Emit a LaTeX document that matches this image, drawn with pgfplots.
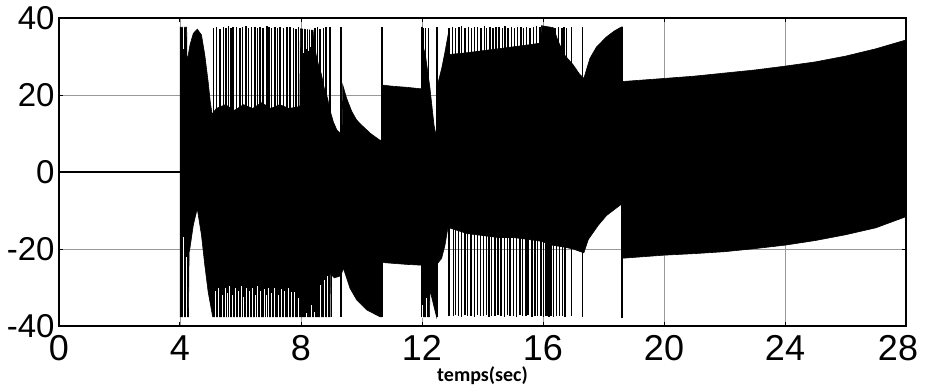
\documentclass[border=0pt]{standalone}
\usepackage{fontspec}
\setmainfont{Liberation Sans}
\newfontfamily\labelfont{Carlito}
\usepackage{pgfplots}
\pgfplotsset{compat=1.18}
\begin{document}
\begin{tikzpicture}
\useasboundingbox (-29.5pt,-30.5pt) rectangle (433.5pt,163pt);
\begin{axis}[
  at={(0,0)}, anchor=south west,
  scale only axis, width=423.5pt, height=154pt,
  xmin=0, xmax=28, ymin=-40, ymax=40,
  xtick={0,4,...,28}, ytick={-40,-20,0,20,40},
  xticklabels={0,4,8,12,16,20,24,{28\hspace*{8pt}}},
  yticklabels={-40,-20,0,20,40},
  xticklabel style={font=\fontsize{18}{18}\selectfont, anchor=north, inner sep=0pt, yshift=-4.5pt},
  yticklabel style={font=\fontsize{16.5}{16.5}\selectfont, anchor=east, inner sep=0pt, xshift=-2pt},
  grid=major, major grid style={black!40, line width=0.45pt},
  tick align=inside, major tick length=2pt, tick style={black, line width=0.5pt},
  axis line style={line width=0.9pt},
  xlabel={\labelfont\bfseries temps(sec)},
  xlabel style={at={(axis description cs:0.5,0)}, anchor=base, yshift=-27.5pt, inner sep=0pt, font=\fontsize{10}{10}\selectfont},
  unbounded coords=jump,
]
% before the disturbance
\addplot[black, line width=0.6pt] coordinates {(0,0) (4.0,0)};

% oscillation envelopes (upper edge forward, lower edge backward)
\addplot[fill=black, draw=black, line width=0.3pt] coordinates {
 (4.00,37.6) (4.22,37.6) (4.23,29.5) (4.27,30.2) (4.33,33) (4.44,36) (4.57,37.1)
 (4.71,35.6) (4.82,30.4) (4.93,23.5) (5.00,18.3) (5.06,15) (5.2,16.5) (5.5,17.5)
 (5.8,16) (6.1,17.5) (6.4,16.5) (6.7,18) (7.0,16.5) (7.3,17.5) (7.6,16.5) (7.96,17)
 (7.98,37.2) (8.40,36.8) (8.41,35.6) (8.50,30.4) (8.58,27.8) (8.68,25.2) (8.77,21.7)
 (8.88,19.1) (8.96,16) (9.07,13) (9.18,11) (9.30,10) (9.36,10) (9.38,22.6) (9.51,19.1)
 (9.68,15.7) (9.84,13.5) (10.0,12.2) (10.3,10) (10.6,8.3) (10.66,8.2)
 (10.66,-37.6) (10.61,-37.6) (10.17,-35.8) (9.84,-33.2) (9.62,-30.2) (9.40,-25)
 (9.36,-26) (9.30,-27) (9.1,-27.5) (8.97,-26.3) (8.96,-37.6) (5.08,-37.6)
 (4.93,-31.1) (4.82,-24.2) (4.71,-16.4) (4.57,-9.5) (4.44,-13.8) (4.33,-19.7)
 (4.30,-21) (4.28,-37.6) (4.00,-37.6)};
\addplot[fill=black, draw=black, line width=0.3pt] coordinates {
 (10.68,22.6) (11.0,22.3) (11.5,22) (11.98,21.6)
 (11.98,-24.2) (11.5,-24) (11.0,-23.7) (10.68,-23.5)};
\addplot[fill=black, draw=black, line width=0.3pt] coordinates {
 (11.99,37.6) (12.02,37.6) (12.03,33) (12.12,30) (12.26,22) (12.40,12) (12.48,9)
 (12.48,-37.6) (12.26,-30.6) (12.25,-37.6) (11.99,-37.6)};
\addplot[fill=black, draw=black, line width=0.3pt] coordinates {
 (12.50,22.2) (12.65,26.9) (12.76,31.2) (12.86,35.5) (12.88,30.5) (13.5,31) (14.0,31.5)
 (14.5,32) (15.0,32.5) (15.5,33) (15.93,33.5) (15.95,38) (16.34,37.5) (16.5,34)
 (16.7,30.5) (17.0,27.8) (17.2,25.5) (17.35,24.3) (17.55,29.5) (17.77,32.5)
 (18.1,35.1) (18.35,36.6) (18.6,37.7) (18.62,37.7)
 (18.62,-8.2) (18.35,-9.8) (18.1,-11.3) (17.83,-13.8) (17.5,-17.5) (17.35,-21)
 (17.0,-20) (16.7,-19.5) (16.3,-19) (15.95,-18) (15.5,-17.5) (15,-17) (14.5,-17)
 (14,-16.5) (13.5,-16) (12.9,-14.5) (12.87,-13.8) (12.76,-19) (12.65,-22.4)
 (12.52,-23.7) (12.50,-23.7)};
\addplot[fill=black, draw=black, line width=0.3pt] coordinates {
 (18.62,23.5) (20,24.3) (21,24.9) (22,25.7) (23,26.5) (24,27.5) (25,28.6) (26,30.1) (27,32) (28,34.3)
 (28,-11.6) (27,-14.5) (26,-16.3) (25,-17.8) (24,-19) (23,-19.9) (22,-20.7) (21,-21.2) (20,-21.6) (18.62,-22.4)};

% cycles reaching the positive limit
\addplot[black, line width=0.75pt] coordinates {
 (5.10,0) (5.10,37.4) (5.10,nan) (5.21,0) (5.21,37.7) (5.21,nan) (5.32,0) (5.32,37.2) (5.32,nan)
 (5.43,0) (5.43,37.6) (5.43,nan) (5.52,0) (5.52,37.5) (5.52,nan) (5.60,0) (5.60,37.8) (5.60,nan)
 (5.69,0) (5.69,37.3) (5.69,nan) (5.76,0) (5.76,37.6) (5.76,nan) (5.87,0) (5.87,37.7) (5.87,nan)
 (5.98,0) (5.98,37.4) (5.98,nan) (6.07,0) (6.07,37.6) (6.07,nan) (6.18,0) (6.18,37.8) (6.18,nan)
 (6.27,0) (6.27,37.5) (6.27,nan) (6.37,0) (6.37,37.6) (6.37,nan) (6.48,0) (6.48,37.7) (6.48,nan)
 (6.56,0) (6.56,37.4) (6.56,nan) (6.64,0) (6.64,37.6) (6.64,nan) (6.75,0) (6.75,37.5) (6.75,nan)
 (6.87,0) (6.87,37.8) (6.87,nan) (6.95,0) (6.95,37.6) (6.95,nan) (7.03,0) (7.03,37.4) (7.03,nan)
 (7.14,0) (7.14,37.7) (7.14,nan) (7.22,0) (7.22,37.5) (7.22,nan) (7.31,0) (7.31,37.6) (7.31,nan)
 (7.42,0) (7.42,37.3) (7.42,nan) (7.53,0) (7.53,37.6) (7.53,nan) (7.64,0) (7.64,37.7) (7.64,nan)
 (7.75,0) (7.75,37.5) (7.75,nan) (7.83,0) (7.83,37.2) (7.83,nan) (7.91,0) (7.91,37.6) (7.91,nan)
 (8.46,0) (8.46,37.4) (8.46,nan) (8.54,0) (8.54,37.6) (8.54,nan) (8.63,0) (8.63,37.2) (8.63,nan)
 (8.74,0) (8.74,37.5) (8.74,nan) (8.82,0) (8.82,37.6) (8.82,nan) (8.96,0) (8.96,37.6) (8.96,nan)
 (12.04,0) (12.04,37.3) (12.04,nan) (12.12,0) (12.12,37.5) (12.12,nan) (12.21,0) (12.21,37.4) (12.21,nan)
 (12.90,0) (12.90,37.5) (12.90,nan) (13.01,0) (13.01,37.7) (13.01,nan) (13.11,0) (13.11,37.4) (13.11,nan)
 (13.22,0) (13.22,37.6) (13.22,nan) (13.31,0) (13.31,37.8) (13.31,nan) (13.42,0) (13.42,37.5) (13.42,nan)
 (13.53,0) (13.53,37.6) (13.53,nan) (13.64,0) (13.64,37.3) (13.64,nan) (13.73,0) (13.73,37.7) (13.73,nan)
 (13.84,0) (13.84,37.6) (13.84,nan) (13.95,0) (13.95,37.4) (13.95,nan) (14.06,0) (14.06,37.8) (14.06,nan)
 (14.14,0) (14.14,37.5) (14.14,nan) (14.25,0) (14.25,37.6) (14.25,nan) (14.34,0) (14.34,37.3) (14.34,nan)
 (14.45,0) (14.45,37.7) (14.45,nan) (14.55,0) (14.55,37.6) (14.55,nan) (14.66,0) (14.66,37.4) (14.66,nan)
 (14.74,0) (14.74,37.8) (14.74,nan) (14.85,0) (14.85,37.5) (14.85,nan) (14.96,0) (14.96,37.6) (14.96,nan)
 (15.05,0) (15.05,37.3) (15.05,nan) (15.16,0) (15.16,37.7) (15.16,nan) (15.27,0) (15.27,37.6) (15.27,nan)
 (15.35,0) (15.35,37.4) (15.35,nan) (15.46,0) (15.46,37.7) (15.46,nan) (15.57,0) (15.57,37.5) (15.57,nan)
 (15.68,0) (15.68,37.6) (15.68,nan) (15.79,0) (15.79,37.8) (15.79,nan) (15.90,0) (15.90,37.6) (15.90,nan)
 (16.40,0) (16.40,37.5) (16.40,nan) (16.51,0) (16.51,37.6) (16.51,nan) (16.62,0) (16.62,37.4) (16.62,nan)
 (16.69,0) (16.69,37.7) (16.69,nan) (16.78,0) (16.78,37.5) (16.78,nan) (16.95,0) (16.95,37.6) (16.95,nan)
 (17.31,0) (17.31,37.7)};

% cycles reaching the negative limit
\addplot[black, line width=0.75pt] coordinates {
 (9.01,0) (9.01,-37.6) (9.01,nan)
 (12.90,0) (12.90,-37.3) (12.90,nan) (13.04,0) (13.04,-37.5) (13.04,nan) (13.11,0) (13.11,-37.1) (13.11,nan)
 (13.20,0) (13.20,-37.4) (13.20,nan) (13.31,0) (13.31,-37.6) (13.31,nan) (13.42,0) (13.42,-37.2) (13.42,nan)
 (13.51,0) (13.51,-37.5) (13.51,nan) (13.62,0) (13.62,-37.3) (13.62,nan) (13.73,0) (13.73,-37.6) (13.73,nan)
 (13.84,0) (13.84,-37.1) (13.84,nan) (13.93,0) (13.93,-37.4) (13.93,nan) (14.03,0) (14.03,-37.5) (14.03,nan)
 (14.14,0) (14.14,-37.2) (14.14,nan) (14.21,0) (14.21,-37.6) (14.21,nan) (14.30,0) (14.30,-37.3) (14.30,nan)
 (14.41,0) (14.41,-37.5) (14.41,nan) (14.52,0) (14.52,-37.1) (14.52,nan) (14.61,0) (14.61,-37.4) (14.61,nan)
 (14.72,0) (14.72,-37.6) (14.72,nan) (14.83,0) (14.83,-37.2) (14.83,nan) (14.91,0) (14.91,-37.5) (14.91,nan)
 (15.02,0) (15.02,-37.3) (15.02,nan) (15.13,0) (15.13,-37.6) (15.13,nan) (15.24,0) (15.24,-37.1) (15.24,nan)
 (15.32,0) (15.32,-37.4) (15.32,nan) (15.43,0) (15.43,-37.5) (15.43,nan) (15.51,0) (15.51,-37.2) (15.51,nan)
 (15.63,0) (15.63,-37.6) (15.63,nan) (15.74,0) (15.74,-37.3) (15.74,nan) (15.82,0) (15.82,-37.5) (15.82,nan)
 (15.93,0) (15.93,-37.4) (15.93,nan) (16.02,0) (16.02,-37.6) (16.02,nan) (16.08,0) (16.08,-37.3) (16.08,nan)
 (16.14,0) (16.14,-37.5) (16.14,nan) (16.20,0) (16.20,-37.6) (16.20,nan) (16.26,0) (16.26,-37.4) (16.26,nan)
 (16.34,0) (16.34,-37.6) (16.34,nan) (16.45,0) (16.45,-37.3) (16.45,nan) (16.54,0) (16.54,-37.5) (16.54,nan)
 (16.65,0) (16.65,-37.4) (16.65,nan) (16.73,0) (16.73,-37.6) (16.73,nan) (16.95,0) (16.95,-37.5) (16.95,nan)
 (17.31,0) (17.31,-37.6)};

% full swings at the switching instants
\addplot[black, line width=0.85pt] coordinates {
 (9.32,-37.6) (9.32,37.7) (9.32,nan) (10.67,-37.6) (10.67,37.7) (10.67,nan)
 (11.99,-37.6) (11.99,37.7) (11.99,nan) (12.49,-37.6) (12.49,37.7) (12.49,nan)
 (18.62,-37.8) (18.62,37.7)};

% cycles whose minimum stays above the limit
\addplot[white, line width=0.5pt] coordinates {
 (4.10,-38) (4.10,-17) (4.10,nan) (4.21,-38) (4.21,-22) (4.21,nan)
 (5.16,-38) (5.16,-31) (5.16,nan) (5.27,-38) (5.27,-30) (5.27,nan) (5.41,-38) (5.41,-32) (5.41,nan)
 (5.49,-38) (5.49,-30) (5.49,nan) (5.56,-38) (5.56,-31.5) (5.56,nan) (5.65,-38) (5.65,-29.5) (5.65,nan)
 (5.74,-38) (5.74,-32) (5.74,nan) (5.82,-38) (5.82,-30) (5.82,nan) (5.93,-38) (5.93,-31) (5.93,nan)
 (6.02,-38) (6.02,-29.5) (6.02,nan) (6.09,-38) (6.09,-32.5) (6.09,nan) (6.20,-38) (6.20,-30) (6.20,nan)
 (6.31,-38) (6.31,-31) (6.31,nan) (6.40,-38) (6.40,-30) (6.40,nan) (6.48,-38) (6.48,-32) (6.48,nan)
 (6.56,-38) (6.56,-29.5) (6.56,nan) (6.67,-38) (6.67,-31) (6.67,nan) (6.78,-38) (6.78,-30.5) (6.78,nan)
 (6.87,-38) (6.87,-32) (6.87,nan) (6.94,-38) (6.94,-30) (6.94,nan) (7.03,-38) (7.03,-31.5) (7.03,nan)
 (7.14,-38) (7.14,-30) (7.14,nan) (7.25,-38) (7.25,-32) (7.25,nan) (7.36,-38) (7.36,-30.5) (7.36,nan)
 (7.47,-38) (7.47,-31) (7.47,nan) (7.58,-38) (7.58,-30) (7.58,nan) (7.69,-38) (7.69,-31.1) (7.69,nan)
 (7.80,-38) (7.80,-31.1) (7.80,nan) (7.91,-38) (7.91,-32.8) (7.91,nan) (8.19,-38) (8.19,-36.5) (8.19,nan)
 (8.35,-38) (8.35,-34.5) (8.35,nan) (8.46,-38) (8.46,-36.3) (8.46,nan) (8.63,-38) (8.63,-29.4) (8.63,nan)
 (8.79,-38) (8.79,-28.1) (8.79,nan) (8.88,-38) (8.88,-27) (8.88,nan)
 (12.01,-38) (12.01,-34.5) (12.01,nan) (12.15,-38) (12.15,-32.7) (12.15,nan)
 (4.12,38) (4.12,32) (4.12,nan) (8.08,38) (8.08,31) (8.08,nan) (8.17,38) (8.17,32) (8.17,nan)
 (8.25,38) (8.25,31.5) (8.25,nan) (8.33,38) (8.33,32.5)};
\end{axis}
\end{tikzpicture}
\end{document}
